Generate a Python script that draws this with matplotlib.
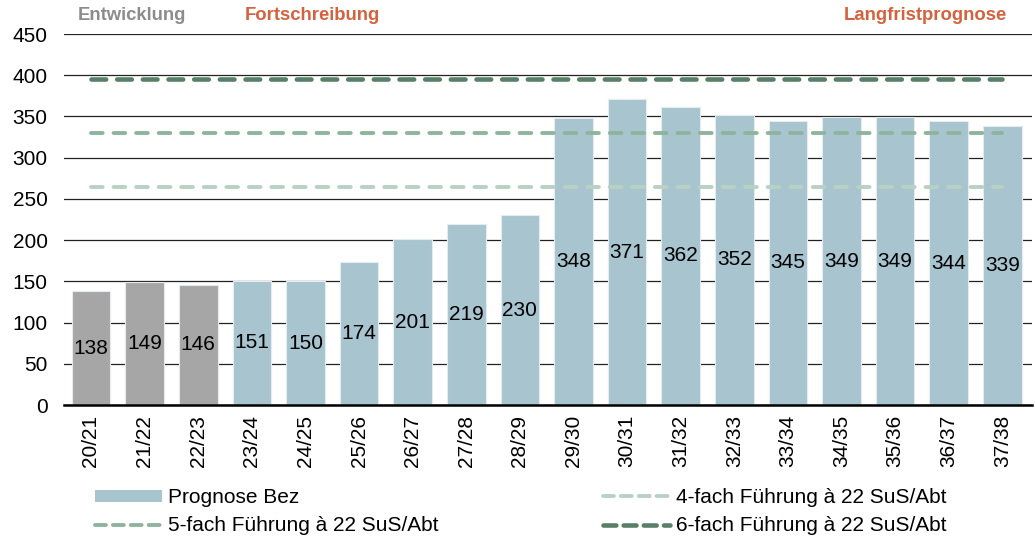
import matplotlib.pyplot as plt
from matplotlib.patches import Patch
from matplotlib.lines import Line2D

plt.rcParams['font.family'] = ['Liberation Sans', 'DejaVu Sans']

# data
years = ["20/21", "21/22", "22/23", "23/24", "24/25", "25/26", "26/27", "27/28", "28/29",
         "29/30", "30/31", "31/32", "32/33", "33/34", "34/35", "35/36", "36/37", "37/38"]
values = [138, 149, 146, 151, 150, 174, 201, 219, 230,
          348, 371, 362, 352, 345, 349, 349, 344, 339]
n_history = 3  # Entwicklung (grey)
cap_4 = 264
cap_5 = 330
cap_6 = 396

grey = "#a6a6a6"
blue = "#a7c4cf"
c4 = "#b9d1c2"
c5 = "#8fb49d"
c6 = "#587f67"
orange = "#d5623e"

fig = plt.figure(figsize=(10.35, 5.39), dpi=100)
ax = fig.add_axes([0.062, 0.2486, 0.935, 0.6883])

x = list(range(len(years)))
colors = [grey if i < n_history else blue for i in x]
bars = ax.bar(x, values, width=0.72, color=colors, edgecolor="#e4ecef", linewidth=0.8, zorder=2)

for xi, v in zip(x, values):
    ax.text(xi, v / 2, str(v), ha="center", va="center", fontsize=15, color="black", zorder=4)

# capacity lines
dash_kw = dict(solid_capstyle="round", dash_capstyle="round", zorder=3)
ax.plot(x, [cap_4] * len(x), color=c4, lw=2.8, dashes=(3.0, 2.8), **dash_kw)
ax.plot(x, [cap_5] * len(x), color=c5, lw=2.8, dashes=(3.0, 2.8), **dash_kw)
ax.plot(x, [cap_6] * len(x), color=c6, lw=3.3, dashes=(3.2, 2.4), **dash_kw)

ax.set_ylim(0, 450)
ax.set_xlim(-0.5, len(years) - 0.45)
ax.set_yticks(range(0, 451, 50))
ax.set_xticks(x)
ax.set_xticklabels(years, rotation=90, fontsize=15)
ax.tick_params(axis="y", labelsize=15, length=0, pad=12)
ax.tick_params(axis="x", length=0, pad=7)
ax.yaxis.grid(True, color="#222222", lw=0.9, zorder=0)
ax.set_axisbelow(True)
for s in ["left", "right", "top"]:
    ax.spines[s].set_visible(False)
ax.spines["bottom"].set_linewidth(1.8)
ax.spines["bottom"].set_zorder(5)

# header labels
fig.text(132 / 1035, 1 - 15 / 539, "Entwicklung", color="#8c8c8c", fontsize=13.3,
         fontweight="bold", ha="center", va="center")
fig.text(312 / 1035, 1 - 15 / 539, "Fortschreibung", color=orange, fontsize=13.3,
         fontweight="bold", ha="center", va="center")
fig.text(925 / 1035, 1 - 15 / 539, "Langfristprognose", color=orange, fontsize=13.3,
         fontweight="bold", ha="center", va="center")

# legends
h_bar = Patch(facecolor=blue, edgecolor="none")
h4 = Line2D([], [], color=c4, lw=2.8, dashes=(2.8, 1.8), dash_capstyle="round")
h5 = Line2D([], [], color=c5, lw=2.8, dashes=(2.8, 1.8), dash_capstyle="round")
h6 = Line2D([], [], color=c6, lw=3.3, dashes=(2.8, 1.6), dash_capstyle="round")

leg_kw = dict(frameon=False, fontsize=15, handlelength=3.2, handletextpad=0.3,
              labelspacing=0.45, borderaxespad=0, borderpad=0, handleheight=0.5)
leg1 = fig.legend([h_bar, h5], ["Prognose Bez", "5-fach Führung à 22 SuS/Abt"],
                  loc="upper left", bbox_to_anchor=(95 / 1035, 1 - 488 / 539), **leg_kw)
leg2 = fig.legend([h4, h6], ["4-fach Führung à 22 SuS/Abt", "6-fach Führung à 22 SuS/Abt"],
                  loc="upper left", bbox_to_anchor=(603 / 1035, 1 - 488 / 539), **leg_kw)

fig.savefig("out.png", dpi=100, facecolor="white")
